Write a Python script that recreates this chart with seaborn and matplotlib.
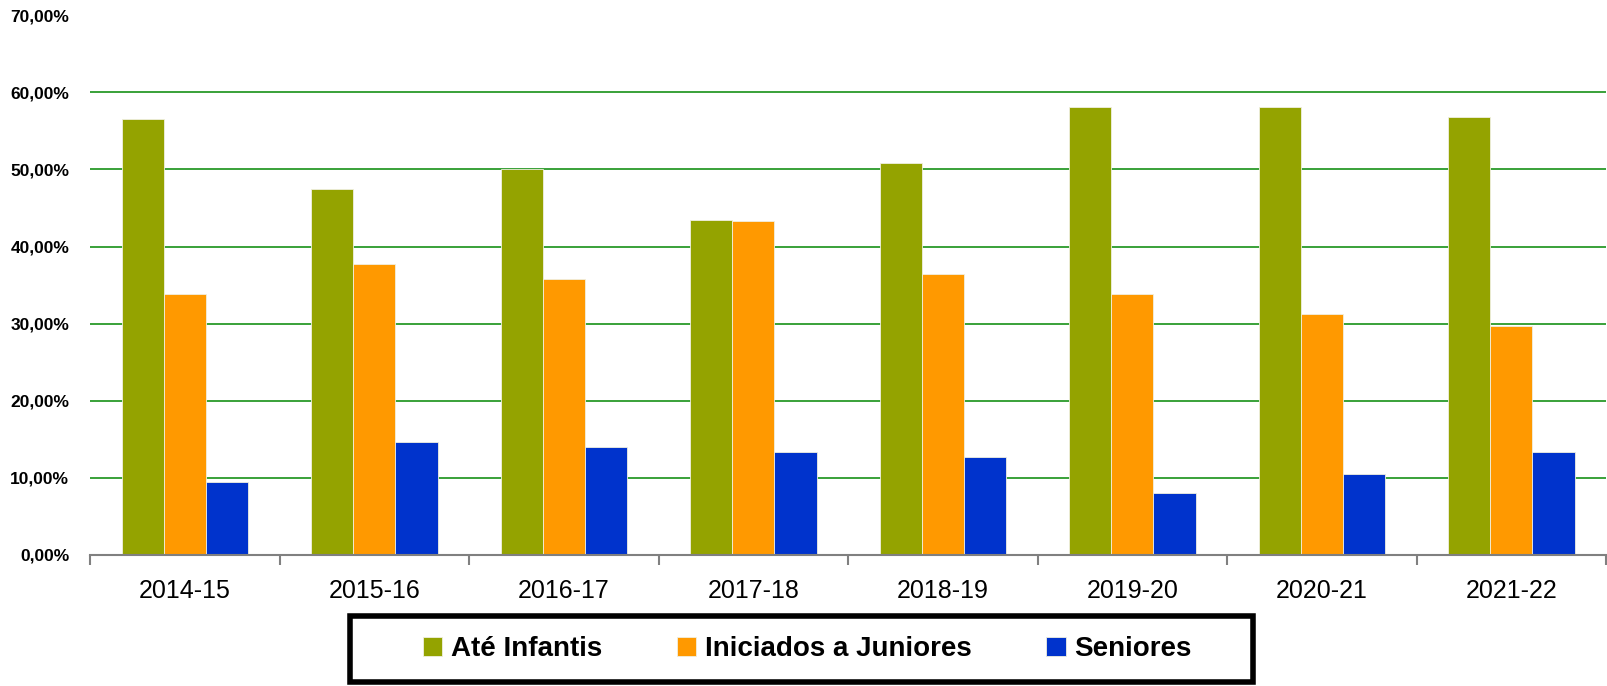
import numpy as np
import pandas as pd
import matplotlib
matplotlib.use("Agg")
import matplotlib.pyplot as plt
import seaborn as sns
from matplotlib.ticker import FuncFormatter, MultipleLocator, FixedLocator
from matplotlib.patches import Rectangle

epocas = ['2014-15', '2015-16', '2016-17', '2017-18', '2018-19', '2019-20', '2020-21', '2021-22']
ate_infantis = [56.6, 47.5, 50.0, 43.4, 50.9, 58.1, 58.1, 56.8]
iniciados_juniores = [33.9, 37.7, 35.8, 43.3, 36.4, 33.8, 31.3, 29.7]
seniores = [9.5, 14.7, 14.0, 13.3, 12.7, 8.1, 10.5, 13.4]
escaloes = ['Até Infantis', 'Iniciados a Juniores', 'Seniores']
cores = ['#94A300', '#FF9900', '#0033CC']

df = pd.DataFrame({'Época': epocas * 3,
                   'Escalão': np.repeat(escaloes, len(epocas)),
                   'valor': ate_infantis + iniciados_juniores + seniores})

sns.set_style("white")
plt.rcParams['font.family'] = ['Liberation Sans', 'DejaVu Sans']

fig = plt.figure(figsize=(16.08, 6.86), dpi=100)
ax = fig.add_axes([0.056, 0.191, 0.9428, 0.7867])

sns.barplot(data=df, x='Época', y='valor', hue='Escalão', palette=cores,
            saturation=1, width=0.667, gap=0, edgecolor='#f0f0e0', linewidth=0.6,
            ax=ax, legend=True, zorder=3)

ax.set_ylim(0, 70)
ax.set_xlim(-0.5, len(epocas) - 0.5)
ax.yaxis.set_major_locator(MultipleLocator(10))
ax.yaxis.set_major_formatter(FuncFormatter(lambda v, p: "{:.2f}%".format(v).replace('.', ',')))
ax.grid(axis='y', color='#2a9a2a', linewidth=1.3, zorder=0)
ax.set_axisbelow(True)
# sem linha de grelha no topo (70%)
for gl, t in zip(ax.yaxis.get_gridlines(), ax.get_yticks()):
    if t >= 70 or t <= 0:
        gl.set_visible(False)

for s in ['top', 'right', 'left']:
    ax.spines[s].set_visible(False)
ax.spines['bottom'].set_color('#808080')
ax.spines['bottom'].set_linewidth(1.5)
ax.spines['bottom'].set_zorder(5)

ax.xaxis.set_minor_locator(FixedLocator(np.arange(-0.5, len(epocas), 1.0)))
ax.tick_params(axis='x', which='major', bottom=True, length=0, pad=17, labelsize=18, labelcolor='black')
ax.tick_params(axis='x', which='minor', bottom=True, length=7, width=1.5, color='#808080', direction='out')
ax.tick_params(axis='y', length=0, pad=15, labelsize=12.5, labelcolor='black')
for lbl in ax.get_yticklabels():
    lbl.set_fontweight('bold')
ax.set_xlabel('')
ax.set_ylabel('')

handles, labels = ax.get_legend_handles_labels()
ax.get_legend().remove()
leg = fig.legend(handles, labels, loc='center', bbox_to_anchor=(0.502, 0.054), ncol=3,
                 frameon=False, prop={'weight': 'bold', 'size': 20},
                 handlelength=0.7, handleheight=0.7, handletextpad=0.3, columnspacing=2.7)
for t in leg.get_texts():
    t.set_color('black')
fig.patches.append(Rectangle((350 / 1608, 4 / 686), 903 / 1608, 66 / 686,
                             transform=fig.transFigure, fill=False,
                             edgecolor='black', linewidth=4))

fig.savefig('out.png', dpi=100)
